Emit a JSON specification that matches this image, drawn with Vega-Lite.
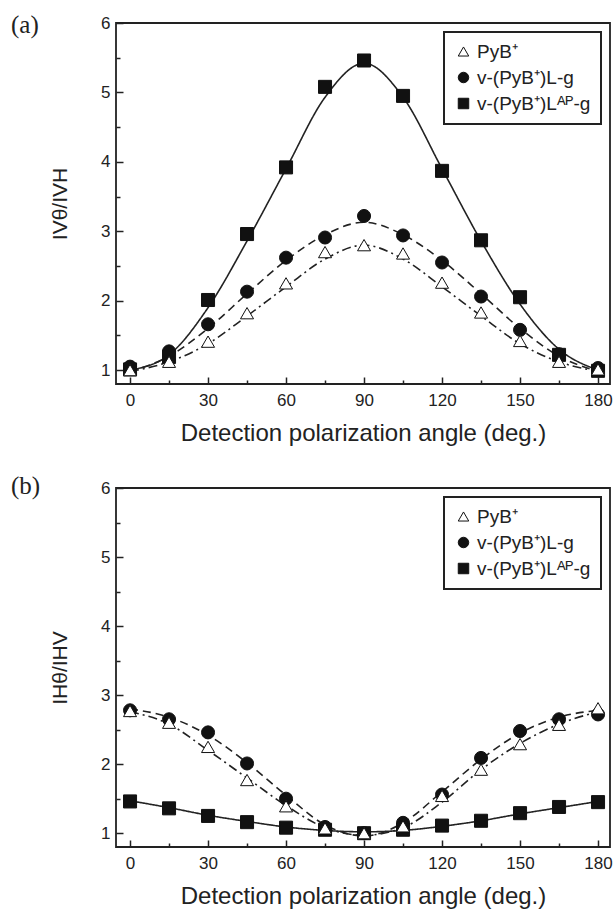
{
  "$schema": "https://vega.github.io/schema/vega-lite/v6.json",
  "padding": {"left": 10, "top": 12, "right": 4, "bottom": 0},
  "background": "white",
  "spacing": 27,
  "datasets": {
    "a_pts": [
      {"angle": 0, "value": 1.01, "series": "v-(PyB⁺)Lᴬᴾ-g"},
      {"angle": 15, "value": 1.19, "series": "v-(PyB⁺)Lᴬᴾ-g"},
      {"angle": 30, "value": 2.01, "series": "v-(PyB⁺)Lᴬᴾ-g"},
      {"angle": 45, "value": 2.96, "series": "v-(PyB⁺)Lᴬᴾ-g"},
      {"angle": 60, "value": 3.92, "series": "v-(PyB⁺)Lᴬᴾ-g"},
      {"angle": 75, "value": 5.08, "series": "v-(PyB⁺)Lᴬᴾ-g"},
      {"angle": 90, "value": 5.46, "series": "v-(PyB⁺)Lᴬᴾ-g"},
      {"angle": 105, "value": 4.95, "series": "v-(PyB⁺)Lᴬᴾ-g"},
      {"angle": 120, "value": 3.87, "series": "v-(PyB⁺)Lᴬᴾ-g"},
      {"angle": 135, "value": 2.87, "series": "v-(PyB⁺)Lᴬᴾ-g"},
      {"angle": 150, "value": 2.05, "series": "v-(PyB⁺)Lᴬᴾ-g"},
      {"angle": 165, "value": 1.22, "series": "v-(PyB⁺)Lᴬᴾ-g"},
      {"angle": 180, "value": 0.99, "series": "v-(PyB⁺)Lᴬᴾ-g"},
      {"angle": 0, "value": 1.05, "series": "v-(PyB⁺)L-g"},
      {"angle": 15, "value": 1.27, "series": "v-(PyB⁺)L-g"},
      {"angle": 30, "value": 1.66, "series": "v-(PyB⁺)L-g"},
      {"angle": 45, "value": 2.13, "series": "v-(PyB⁺)L-g"},
      {"angle": 60, "value": 2.62, "series": "v-(PyB⁺)L-g"},
      {"angle": 75, "value": 2.91, "series": "v-(PyB⁺)L-g"},
      {"angle": 90, "value": 3.22, "series": "v-(PyB⁺)L-g"},
      {"angle": 105, "value": 2.94, "series": "v-(PyB⁺)L-g"},
      {"angle": 120, "value": 2.55, "series": "v-(PyB⁺)L-g"},
      {"angle": 135, "value": 2.06, "series": "v-(PyB⁺)L-g"},
      {"angle": 150, "value": 1.58, "series": "v-(PyB⁺)L-g"},
      {"angle": 165, "value": 1.23, "series": "v-(PyB⁺)L-g"},
      {"angle": 180, "value": 1.03, "series": "v-(PyB⁺)L-g"},
      {"angle": 0, "value": 1.0, "series": "PyB⁺"},
      {"angle": 15, "value": 1.12, "series": "PyB⁺"},
      {"angle": 30, "value": 1.41, "series": "PyB⁺"},
      {"angle": 45, "value": 1.82, "series": "PyB⁺"},
      {"angle": 60, "value": 2.25, "series": "PyB⁺"},
      {"angle": 75, "value": 2.7, "series": "PyB⁺"},
      {"angle": 90, "value": 2.8, "series": "PyB⁺"},
      {"angle": 105, "value": 2.68, "series": "PyB⁺"},
      {"angle": 120, "value": 2.26, "series": "PyB⁺"},
      {"angle": 135, "value": 1.83, "series": "PyB⁺"},
      {"angle": 150, "value": 1.42, "series": "PyB⁺"},
      {"angle": 165, "value": 1.12, "series": "PyB⁺"},
      {"angle": 180, "value": 1.01, "series": "PyB⁺"}
    ],
    "a_fit": [
      {"angle": 0, "value": 1.0, "series": "v-(PyB⁺)Lᴬᴾ-g"},
      {"angle": 15, "value": 1.22, "series": "v-(PyB⁺)Lᴬᴾ-g"},
      {"angle": 30, "value": 1.9, "series": "v-(PyB⁺)Lᴬᴾ-g"},
      {"angle": 45, "value": 2.86, "series": "v-(PyB⁺)Lᴬᴾ-g"},
      {"angle": 60, "value": 3.9, "series": "v-(PyB⁺)Lᴬᴾ-g"},
      {"angle": 75, "value": 4.93, "series": "v-(PyB⁺)Lᴬᴾ-g"},
      {"angle": 90, "value": 5.42, "series": "v-(PyB⁺)Lᴬᴾ-g"},
      {"angle": 105, "value": 4.93, "series": "v-(PyB⁺)Lᴬᴾ-g"},
      {"angle": 120, "value": 3.9, "series": "v-(PyB⁺)Lᴬᴾ-g"},
      {"angle": 135, "value": 2.86, "series": "v-(PyB⁺)Lᴬᴾ-g"},
      {"angle": 150, "value": 1.95, "series": "v-(PyB⁺)Lᴬᴾ-g"},
      {"angle": 165, "value": 1.3, "series": "v-(PyB⁺)Lᴬᴾ-g"},
      {"angle": 180, "value": 1.0, "series": "v-(PyB⁺)Lᴬᴾ-g"},
      {"angle": 0, "value": 0.98, "series": "v-(PyB⁺)L-g"},
      {"angle": 15, "value": 1.2, "series": "v-(PyB⁺)L-g"},
      {"angle": 30, "value": 1.6, "series": "v-(PyB⁺)L-g"},
      {"angle": 45, "value": 2.1, "series": "v-(PyB⁺)L-g"},
      {"angle": 60, "value": 2.58, "series": "v-(PyB⁺)L-g"},
      {"angle": 75, "value": 2.95, "series": "v-(PyB⁺)L-g"},
      {"angle": 90, "value": 3.13, "series": "v-(PyB⁺)L-g"},
      {"angle": 105, "value": 2.95, "series": "v-(PyB⁺)L-g"},
      {"angle": 120, "value": 2.58, "series": "v-(PyB⁺)L-g"},
      {"angle": 135, "value": 2.1, "series": "v-(PyB⁺)L-g"},
      {"angle": 150, "value": 1.6, "series": "v-(PyB⁺)L-g"},
      {"angle": 165, "value": 1.2, "series": "v-(PyB⁺)L-g"},
      {"angle": 180, "value": 0.98, "series": "v-(PyB⁺)L-g"},
      {"angle": 0, "value": 0.98, "series": "PyB⁺"},
      {"angle": 15, "value": 1.12, "series": "PyB⁺"},
      {"angle": 30, "value": 1.38, "series": "PyB⁺"},
      {"angle": 45, "value": 1.78, "series": "PyB⁺"},
      {"angle": 60, "value": 2.2, "series": "PyB⁺"},
      {"angle": 75, "value": 2.6, "series": "PyB⁺"},
      {"angle": 90, "value": 2.8, "series": "PyB⁺"},
      {"angle": 105, "value": 2.6, "series": "PyB⁺"},
      {"angle": 120, "value": 2.2, "series": "PyB⁺"},
      {"angle": 135, "value": 1.78, "series": "PyB⁺"},
      {"angle": 150, "value": 1.38, "series": "PyB⁺"},
      {"angle": 165, "value": 1.12, "series": "PyB⁺"},
      {"angle": 180, "value": 0.98, "series": "PyB⁺"}
    ],
    "b_pts": [
      {"angle": 0, "value": 1.46, "series": "v-(PyB⁺)Lᴬᴾ-g"},
      {"angle": 15, "value": 1.36, "series": "v-(PyB⁺)Lᴬᴾ-g"},
      {"angle": 30, "value": 1.25, "series": "v-(PyB⁺)Lᴬᴾ-g"},
      {"angle": 45, "value": 1.16, "series": "v-(PyB⁺)Lᴬᴾ-g"},
      {"angle": 60, "value": 1.08, "series": "v-(PyB⁺)Lᴬᴾ-g"},
      {"angle": 75, "value": 1.05, "series": "v-(PyB⁺)Lᴬᴾ-g"},
      {"angle": 90, "value": 1.0, "series": "v-(PyB⁺)Lᴬᴾ-g"},
      {"angle": 105, "value": 1.05, "series": "v-(PyB⁺)Lᴬᴾ-g"},
      {"angle": 120, "value": 1.11, "series": "v-(PyB⁺)Lᴬᴾ-g"},
      {"angle": 135, "value": 1.18, "series": "v-(PyB⁺)Lᴬᴾ-g"},
      {"angle": 150, "value": 1.29, "series": "v-(PyB⁺)Lᴬᴾ-g"},
      {"angle": 165, "value": 1.38, "series": "v-(PyB⁺)Lᴬᴾ-g"},
      {"angle": 180, "value": 1.45, "series": "v-(PyB⁺)Lᴬᴾ-g"},
      {"angle": 0, "value": 2.78, "series": "v-(PyB⁺)L-g"},
      {"angle": 15, "value": 2.65, "series": "v-(PyB⁺)L-g"},
      {"angle": 30, "value": 2.46, "series": "v-(PyB⁺)L-g"},
      {"angle": 45, "value": 2.01, "series": "v-(PyB⁺)L-g"},
      {"angle": 60, "value": 1.5, "series": "v-(PyB⁺)L-g"},
      {"angle": 75, "value": 1.09, "series": "v-(PyB⁺)L-g"},
      {"angle": 90, "value": 1.0, "series": "v-(PyB⁺)L-g"},
      {"angle": 105, "value": 1.15, "series": "v-(PyB⁺)L-g"},
      {"angle": 120, "value": 1.56, "series": "v-(PyB⁺)L-g"},
      {"angle": 135, "value": 2.09, "series": "v-(PyB⁺)L-g"},
      {"angle": 150, "value": 2.48, "series": "v-(PyB⁺)L-g"},
      {"angle": 165, "value": 2.65, "series": "v-(PyB⁺)L-g"},
      {"angle": 180, "value": 2.72, "series": "v-(PyB⁺)L-g"},
      {"angle": 0, "value": 2.77, "series": "PyB⁺"},
      {"angle": 15, "value": 2.6, "series": "PyB⁺"},
      {"angle": 30, "value": 2.25, "series": "PyB⁺"},
      {"angle": 45, "value": 1.77, "series": "PyB⁺"},
      {"angle": 60, "value": 1.39, "series": "PyB⁺"},
      {"angle": 75, "value": 1.07, "series": "PyB⁺"},
      {"angle": 90, "value": 1.0, "series": "PyB⁺"},
      {"angle": 105, "value": 1.1, "series": "PyB⁺"},
      {"angle": 120, "value": 1.54, "series": "PyB⁺"},
      {"angle": 135, "value": 1.92, "series": "PyB⁺"},
      {"angle": 150, "value": 2.29, "series": "PyB⁺"},
      {"angle": 165, "value": 2.57, "series": "PyB⁺"},
      {"angle": 180, "value": 2.81, "series": "PyB⁺"}
    ],
    "b_fit": [
      {"angle": 0, "value": 1.47, "series": "v-(PyB⁺)Lᴬᴾ-g"},
      {"angle": 15, "value": 1.37, "series": "v-(PyB⁺)Lᴬᴾ-g"},
      {"angle": 30, "value": 1.26, "series": "v-(PyB⁺)Lᴬᴾ-g"},
      {"angle": 45, "value": 1.17, "series": "v-(PyB⁺)Lᴬᴾ-g"},
      {"angle": 60, "value": 1.09, "series": "v-(PyB⁺)Lᴬᴾ-g"},
      {"angle": 75, "value": 1.04, "series": "v-(PyB⁺)Lᴬᴾ-g"},
      {"angle": 90, "value": 1.02, "series": "v-(PyB⁺)Lᴬᴾ-g"},
      {"angle": 105, "value": 1.04, "series": "v-(PyB⁺)Lᴬᴾ-g"},
      {"angle": 120, "value": 1.1, "series": "v-(PyB⁺)Lᴬᴾ-g"},
      {"angle": 135, "value": 1.18, "series": "v-(PyB⁺)Lᴬᴾ-g"},
      {"angle": 150, "value": 1.28, "series": "v-(PyB⁺)Lᴬᴾ-g"},
      {"angle": 165, "value": 1.37, "series": "v-(PyB⁺)Lᴬᴾ-g"},
      {"angle": 180, "value": 1.46, "series": "v-(PyB⁺)Lᴬᴾ-g"},
      {"angle": 0, "value": 2.8, "series": "v-(PyB⁺)L-g"},
      {"angle": 15, "value": 2.68, "series": "v-(PyB⁺)L-g"},
      {"angle": 30, "value": 2.42, "series": "v-(PyB⁺)L-g"},
      {"angle": 45, "value": 2.02, "series": "v-(PyB⁺)L-g"},
      {"angle": 60, "value": 1.55, "series": "v-(PyB⁺)L-g"},
      {"angle": 75, "value": 1.12, "series": "v-(PyB⁺)L-g"},
      {"angle": 90, "value": 0.96, "series": "v-(PyB⁺)L-g"},
      {"angle": 105, "value": 1.15, "series": "v-(PyB⁺)L-g"},
      {"angle": 120, "value": 1.6, "series": "v-(PyB⁺)L-g"},
      {"angle": 135, "value": 2.07, "series": "v-(PyB⁺)L-g"},
      {"angle": 150, "value": 2.45, "series": "v-(PyB⁺)L-g"},
      {"angle": 165, "value": 2.68, "series": "v-(PyB⁺)L-g"},
      {"angle": 180, "value": 2.78, "series": "v-(PyB⁺)L-g"},
      {"angle": 0, "value": 2.76, "series": "PyB⁺"},
      {"angle": 15, "value": 2.58, "series": "PyB⁺"},
      {"angle": 30, "value": 2.2, "series": "PyB⁺"},
      {"angle": 45, "value": 1.8, "series": "PyB⁺"},
      {"angle": 60, "value": 1.4, "series": "PyB⁺"},
      {"angle": 75, "value": 1.08, "series": "PyB⁺"},
      {"angle": 90, "value": 0.97, "series": "PyB⁺"},
      {"angle": 105, "value": 1.08, "series": "PyB⁺"},
      {"angle": 120, "value": 1.45, "series": "PyB⁺"},
      {"angle": 135, "value": 1.92, "series": "PyB⁺"},
      {"angle": 150, "value": 2.3, "series": "PyB⁺"},
      {"angle": 165, "value": 2.58, "series": "PyB⁺"},
      {"angle": 180, "value": 2.76, "series": "PyB⁺"}
    ]
  },
  "vconcat": [
    {
      "width": 494,
      "height": 361,
      "title": {"text": "(a)", "anchor": "start", "frame": "group", "orient": "top", "baseline": "top", "offset": 0, "dy": 24, "dx": -105, "font": "Liberation Serif", "fontSize": 25, "fontWeight": "normal", "color": "#222"},
      "resolve": {"axis": {"x": "independent", "y": "independent"}},
      "layer": [
        {
          "data": {"name": "a_fit"},
          "mark": {"type": "line", "interpolate": "monotone", "color": "#222", "strokeWidth": 1.6},
          "encoding": {
            "x": {"field": "angle", "type": "quantitative", "scale": {"domain": [-5.4, 184.6], "nice": false, "zero": false},
              "axis": {"orient": "bottom", "values": [15, 45, 75, 105, 135, 165], "labels": false, "title": null, "tickSize": -4, "domain": false, "grid": false, "tickColor": "#222", "tickWidth": 1.5}},
            "y": {"field": "value", "type": "quantitative", "scale": {"domain": [0.8, 6], "nice": false, "zero": false},
              "axis": {"orient": "left", "values": [1.5, 2.5, 3.5, 4.5, 5.5], "labels": false, "title": null, "tickSize": -4, "domain": false, "grid": false, "tickColor": "#222", "tickWidth": 1.5}},
            "detail": {"field": "series"},
            "strokeDash": {"field": "series", "type": "nominal", "legend": null,
              "scale": {"domain": ["PyB⁺", "v-(PyB⁺)L-g", "v-(PyB⁺)Lᴬᴾ-g"], "range": [[9, 4, 2, 4], [8, 5], [1, 0]]}}
          }
        },
        {
          "data": {"name": "a_pts"},
          "mark": {"type": "point", "stroke": "#111", "strokeWidth": 1, "opacity": 1, "size": 170},
          "encoding": {
            "x": {"field": "angle", "type": "quantitative",
              "axis": {"orient": "bottom", "values": [0, 30, 60, 90, 120, 150, 180], "title": "Detection polarization angle (deg.)", "titleFontSize": 24, "tickSize": -7, "labelPadding": 15, "titlePadding": 13, "domain": false, "grid": false, "tickColor": "#222", "tickWidth": 1.5}},
            "y": {"field": "value", "type": "quantitative",
              "axis": {"orient": "left", "values": [1, 2, 3, 4, 5, 6], "title": "IVθ/IVH", "tickSize": -7, "labelPadding": 13, "titlePadding": 30, "domain": false, "grid": false, "tickColor": "#222", "tickWidth": 1.5}},
            "shape": {"field": "series", "type": "nominal", "title": null,
              "scale": {"domain": ["PyB⁺", "v-(PyB⁺)L-g", "v-(PyB⁺)Lᴬᴾ-g"], "range": ["triangle-up", "circle", "square"]}},
            "fill": {"field": "series", "type": "nominal", "title": null,
              "scale": {"domain": ["PyB⁺", "v-(PyB⁺)L-g", "v-(PyB⁺)Lᴬᴾ-g"], "range": ["white", "#111", "#111"]}}
          }
        }
      ]
    },
    {
      "width": 494,
      "height": 359,
      "title": {"text": "(b)", "anchor": "start", "frame": "group", "orient": "top", "baseline": "top", "offset": 0, "dy": 20, "dx": -105, "font": "Liberation Serif", "fontSize": 25, "fontWeight": "normal", "color": "#222"},
      "resolve": {"axis": {"x": "independent", "y": "independent"}},
      "layer": [
        {
          "data": {"name": "b_fit"},
          "mark": {"type": "line", "interpolate": "monotone", "color": "#222", "strokeWidth": 1.6},
          "encoding": {
            "x": {"field": "angle", "type": "quantitative", "scale": {"domain": [-5.4, 184.6], "nice": false, "zero": false},
              "axis": {"orient": "bottom", "values": [15, 45, 75, 105, 135, 165], "labels": false, "title": null, "tickSize": -4, "domain": false, "grid": false, "tickColor": "#222", "tickWidth": 1.5}},
            "y": {"field": "value", "type": "quantitative", "scale": {"domain": [0.8, 6], "nice": false, "zero": false},
              "axis": {"orient": "left", "values": [1.5, 2.5, 3.5, 4.5, 5.5], "labels": false, "title": null, "tickSize": -4, "domain": false, "grid": false, "tickColor": "#222", "tickWidth": 1.5}},
            "detail": {"field": "series"},
            "strokeDash": {"field": "series", "type": "nominal", "legend": null,
              "scale": {"domain": ["PyB⁺", "v-(PyB⁺)L-g", "v-(PyB⁺)Lᴬᴾ-g"], "range": [[9, 4, 2, 4], [8, 5], [1, 0]]}}
          }
        },
        {
          "data": {"name": "b_pts"},
          "mark": {"type": "point", "stroke": "#111", "strokeWidth": 1, "opacity": 1, "size": 170},
          "encoding": {
            "x": {"field": "angle", "type": "quantitative",
              "axis": {"orient": "bottom", "values": [0, 30, 60, 90, 120, 150, 180], "title": "Detection polarization angle (deg.)", "titleFontSize": 24, "tickSize": -7, "labelPadding": 15, "titlePadding": 13, "domain": false, "grid": false, "tickColor": "#222", "tickWidth": 1.5}},
            "y": {"field": "value", "type": "quantitative",
              "axis": {"orient": "left", "values": [1, 2, 3, 4, 5, 6], "title": "IHθ/IHV", "tickSize": -7, "labelPadding": 13, "titlePadding": 30, "domain": false, "grid": false, "tickColor": "#222", "tickWidth": 1.5}},
            "shape": {"field": "series", "type": "nominal", "title": null,
              "scale": {"domain": ["PyB⁺", "v-(PyB⁺)L-g", "v-(PyB⁺)Lᴬᴾ-g"], "range": ["triangle-up", "circle", "square"]}},
            "fill": {"field": "series", "type": "nominal", "title": null,
              "scale": {"domain": ["PyB⁺", "v-(PyB⁺)L-g", "v-(PyB⁺)Lᴬᴾ-g"], "range": ["white", "#111", "#111"]}}
          }
        }
      ]
    }
  ],
  "resolve": {"legend": {"shape": "independent", "fill": "independent"}},
  "config": {
    "font": "Liberation Sans",
    "view": {"stroke": "#222", "strokeWidth": 1.8},
    "axis": {"labelFont": "Liberation Sans", "labelFontSize": 17, "labelColor": "#222", "titleFont": "Liberation Sans", "titleFontSize": 21, "titleFontWeight": "normal", "titleColor": "#222"},
    "legend": {"orient": "top-right", "offset": 9, "padding": 10, "strokeColor": "#222", "strokeWidth": 2, "fillColor": "white", "labelFont": "Liberation Sans", "labelFontSize": 19, "labelColor": "#222", "rowPadding": 6, "symbolSize": 110, "symbolStrokeColor": "#111", "symbolStrokeWidth": 1, "labelOffset": 4, "labelLimit": 300,
      "symbolType": "circle",
      "symbolFillColor": "#111"}
  }
}
